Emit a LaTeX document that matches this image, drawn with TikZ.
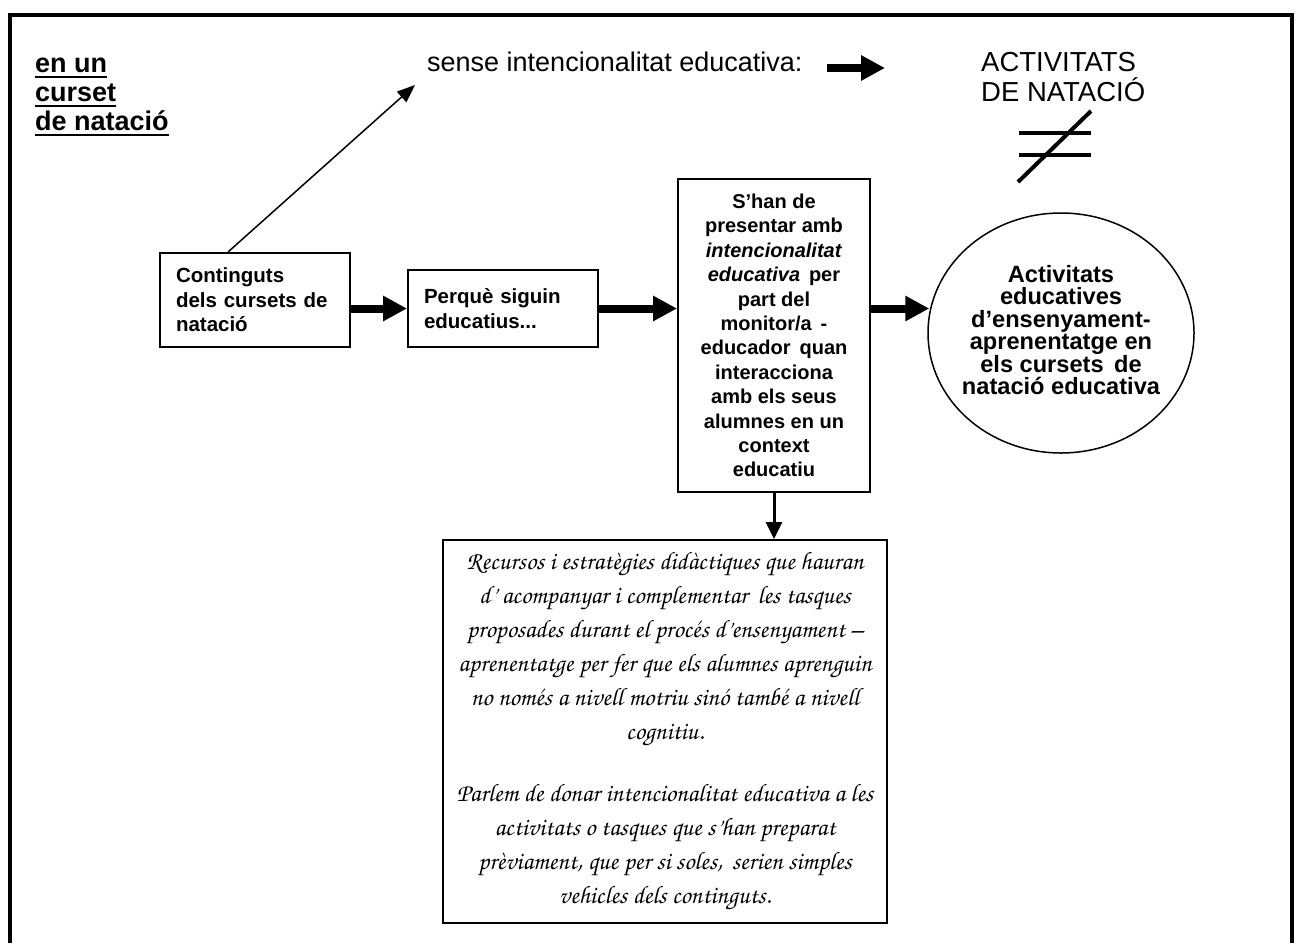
\documentclass[tikz,border=0pt]{standalone}
\usepackage[T1]{fontenc}
\usepackage{fontspec}
\setmainfont{Liberation Sans}
\usetikzlibrary{arrows.meta,shapes.geometric,calc}
\newcommand\chancfont{\fontencoding{T1}\fontfamily{pzc}\fontseries{m}\fontshape{it}\fontsize{25.2}{34}\selectfont}
\begin{document}
\begin{tikzpicture}[x=1pt,y=-1pt,
  box/.style={draw, line width=2pt, inner sep=0pt},
  boxtext/.style={font=\fontsize{20.5}{24.4}\selectfont\bfseries},
  bigarrow/.style={line width=8pt, -{Triangle[length=24pt,width=24pt]}},
  thinarrow/.style={line width=1.5pt, -{Triangle[length=18pt,width=14pt]}},
  downarrow/.style={line width=3pt, -{Triangle[length=17pt,width=16pt]}},
  ttl/.style={font=\fontsize{27}{29}\selectfont\bfseries, anchor=base west, inner sep=0pt},
  ulline/.style={line width=2.5pt},
  plain/.style={font=\fontsize{27}{30}\selectfont, inner sep=0pt},
  neq/.style={line width=4pt},
  ]
\useasboundingbox (0,0) rectangle (1298,943);
\draw[line width=4pt] (10,943) -- (10,15) -- (1292,15) -- (1292,943);

% title
\node[ttl] (t1) at (35,72) {en un};
\node[ttl] (t2) at (35,101) {curset};
\node[ttl] (t3) at (35,130) {de natació};
\draw[ulline] ([yshift=-5pt]t1.base west) -- ([yshift=-5pt]t1.base east);
\draw[ulline] ([yshift=-5pt]t2.base west) -- ([yshift=-5pt]t2.base east);
\draw[ulline] ([yshift=-5pt]t3.base west) -- ([yshift=-5pt]t3.base east);

% top texts
\node[plain, anchor=base west] (sense) at (427,71) {sense intencionalitat educativa:};
\coordinate (ta1) at (827,68);
\coordinate (ta2) at (885,68);
\draw[bigarrow] (ta1) -- (ta2);
\node[plain, anchor=north west, align=left, font=\fontsize{27.5}{30}\selectfont] (act) at (981,52) {ACTIVITATS\\DE NATACIÓ};
\draw[neq] (1019,133) -- (1091,133);
\draw[neq] (1019,155) -- (1091,155);
\draw[neq] (1018,182) -- (1091,111);

% boxes
\node[box, boxtext, align=left, text width=158pt, minimum width=190pt, minimum height=94pt] (b1) at (255,300)
  {Continguts\\dels cursets de\\natació};
\node[box, boxtext, align=left, text width=158pt, minimum width=190pt, minimum height=77pt] (b2) at (503,308.5)
  {Perquè siguin\\educatius...};
\node[box, boxtext, font=\fontsize{20}{24.4}\selectfont\bfseries, align=center, minimum width=192pt, minimum height=313pt] (b3) at (774,335.5)
  {S’han de\\presentar amb\\\textit{intencionalitat}\\\textit{educativa}\, per\\part del\\monitor/a\, -\\educador\, quan\\interacciona\\amb els seus\\alumnes en un\\context\\educatiu};
\node[draw, line width=1.5pt, ellipse, minimum width=266pt, minimum height=240pt, inner sep=0pt] (ell) at (1061,333) {};
\node[align=center, inner sep=0pt, font=\fontsize{23.6}{22.5}\selectfont\bfseries] (elltext) at ([yshift=3pt]ell.center)
  {Activitats\\educatives\\d’ensenyament-\\aprenentatge en\\els cursets\, de\\natació educativa};
\node[box, minimum width=444pt, minimum height=383pt] (b4) at (665,731.5) {};
\node[align=center, inner sep=0pt, font=\chancfont] (b4text) at (b4.center)
  {Recursos i estratègies didàctiques que hauran\\
   d' acompanyar i complementar\, les tasques\\
   proposades durant el procés d'ensenyament --\\
   aprenentatge per fer que els alumnes aprenguin\\
   no només a nivell motriu sinó també a nivell\\
   cognitiu.\\[28pt]
   Parlem de donar intencionalitat educativa a les\\
   activitats o tasques que s'han preparat\\
   prèviament, que per si soles,\, serien simples\\
   vehicles dels continguts.};

% connectors
\coordinate (sensetip) at (415,85);
\draw[thinarrow] ([xshift=-27pt]b1.north) -- (sensetip);
\draw[bigarrow] (b1.east |- b2.west) -- (b2.west);
\draw[bigarrow] (b2.east) -- (b2.east -| b3.west);
\draw[bigarrow] (b3.east |- b2.east) -- ($(ell.west |- b2.east)+(2,0)$);
\draw[downarrow] (b3.south) -- (b3.south |- b4.north);
\end{tikzpicture}
\end{document}
